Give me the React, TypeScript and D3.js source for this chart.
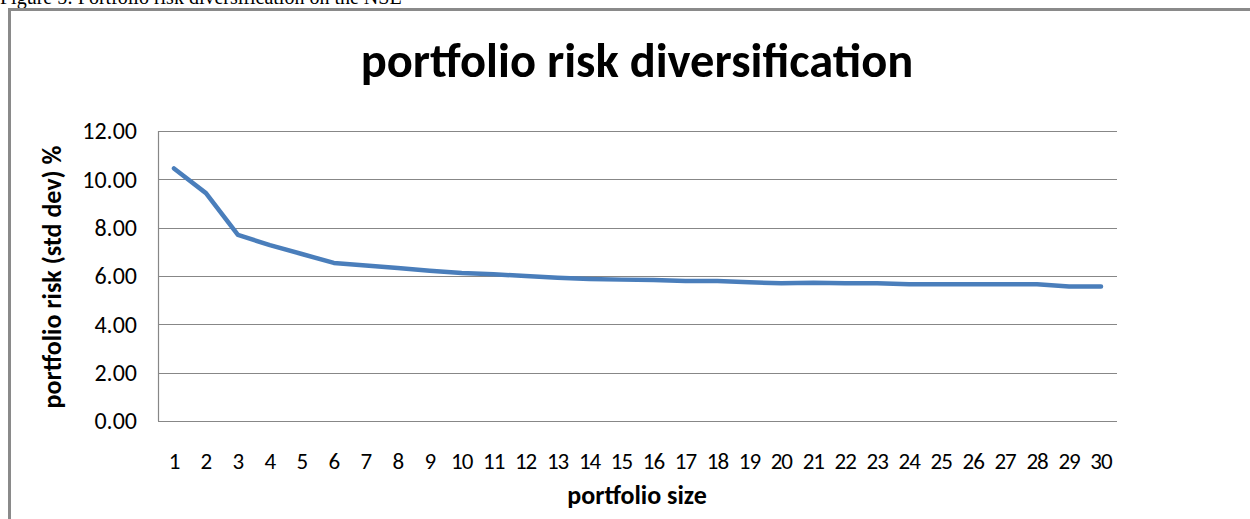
import * as d3 from "d3";
import { useEffect, useRef } from "react";

const sizes = d3.range(1, 31).map(String);
const risk = [
  10.45, 9.43, 7.7, 7.28, 6.91, 6.54, 6.43, 6.33, 6.22, 6.12,
  6.07, 6.0, 5.93, 5.88, 5.85, 5.83, 5.79, 5.79, 5.74, 5.7,
  5.72, 5.7, 5.7, 5.66, 5.66, 5.66, 5.66, 5.66, 5.57, 5.57,
];
const yTicks = [0, 2, 4, 6, 8, 10, 12];

const W = 1250;
const H = 519;
const font = "Carlito, Calibri, Lato, sans-serif";

export default function App() {
  const ref = useRef<SVGSVGElement>(null);

  useEffect(() => {
    const svg = d3.select(ref.current);
    svg.selectAll("*").remove();

    const x = d3.scaleBand().domain(sizes).range([158, 1117]).padding(0);
    const y = d3.scaleLinear().domain([0, 12]).range([421, 131]);

    // caption of the figure, mostly cut off by the crop
    svg
      .append("text")
      .attr("x", 0)
      .attr("y", 4)
      .style("font-family", "'Liberation Serif', serif")
      .style("font-size", "20px")
      .text("Figure 5: Portfolio risk diversification on the NSE");

    // outer chart frame
    svg
      .append("path")
      .attr("d", `M9.5,${H + 5}V9.5H${W + 5}`)
      .attr("fill", "none")
      .attr("stroke", "#8a8a8a")
      .attr("stroke-width", 3);

    svg
      .append("text")
      .attr("x", 637)
      .attr("y", 77)
      .attr("text-anchor", "middle")
      .style("font-family", font)
      .style("font-weight", "bold")
      .style("font-size", "48.5px")
      .text("portfolio risk diversification");

    // gridlines
    svg
      .append("g")
      .selectAll("line")
      .data(yTicks)
      .join("line")
      .attr("x1", 158)
      .attr("x2", 1117)
      .attr("y1", (d) => Math.round(y(d)) + 0.5)
      .attr("y2", (d) => Math.round(y(d)) + 0.5)
      .attr("stroke", "#878787")
      .attr("stroke-width", 1.2);

    svg
      .append("line")
      .attr("x1", 158.5)
      .attr("x2", 158.5)
      .attr("y1", y(12))
      .attr("y2", y(0))
      .attr("stroke", "#878787")
      .attr("stroke-width", 1.2);

    svg
      .append("g")
      .selectAll("text")
      .data(yTicks)
      .join("text")
      .attr("x", 137)
      .attr("y", (d) => y(d))
      .attr("dy", "0.35em")
      .attr("text-anchor", "end")
      .style("font-family", font)
      .style("font-size", "24px")
      .text((d) => d.toFixed(2));

    svg
      .append("g")
      .selectAll("text")
      .data(sizes)
      .join("text")
      .attr("x", (d) => x(d)! + x.bandwidth() / 2)
      .attr("y", 461)
      .attr("dy", "0.35em")
      .attr("text-anchor", "middle")
      .style("font-family", font)
      .style("font-size", "23px")
      .style("letter-spacing", "-1px")
      .text((d) => d);

    svg
      .append("text")
      .attr("x", 637)
      .attr("y", 495)
      .attr("dy", "0.35em")
      .attr("text-anchor", "middle")
      .style("font-family", font)
      .style("font-weight", "bold")
      .style("font-size", "26px")
      .text("portfolio size");

    svg
      .append("text")
      .attr("transform", "translate(52,277) rotate(-90)")
      .attr("dy", "0.35em")
      .attr("text-anchor", "middle")
      .style("font-family", font)
      .style("font-weight", "bold")
      .style("font-size", "26px")
      .text("portfolio risk (std dev) %");

    const line = d3
      .line<number>()
      .x((_, i) => x(sizes[i])! + x.bandwidth() / 2)
      .y((d) => y(d));

    svg
      .append("path")
      .datum(risk)
      .attr("d", line)
      .attr("fill", "none")
      .attr("stroke", "#4a7ebb")
      .attr("stroke-width", 4.5)
      .attr("stroke-linecap", "round")
      .attr("stroke-linejoin", "round");
  }, []);

  return (
    <svg
      ref={ref}
      width={W}
      height={H}
      style={{ position: "absolute", left: 0, top: 0, background: "#fff" }}
    />
  );
}
